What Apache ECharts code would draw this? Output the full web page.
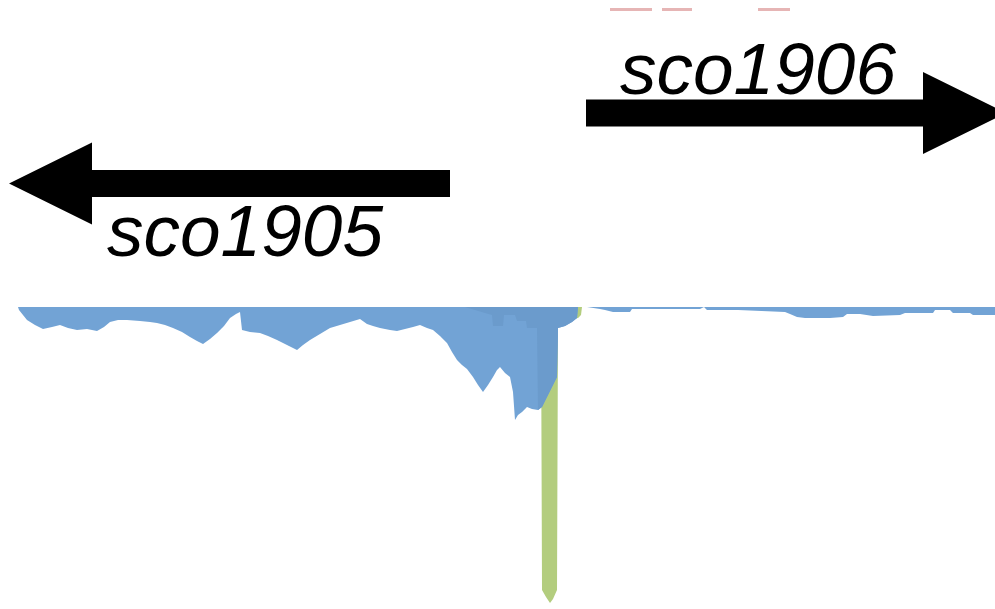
<!DOCTYPE html>
<html>
<head>
<meta charset="utf-8">
<script src="https://cdn.jsdelivr.net/npm/echarts@6/dist/echarts.min.js"></script>
<style>
	html, body { margin: 0; padding: 0; background: #fff; }
	#chart { width: 995px; height: 609px; }
</style>
</head>
<body>
<div id="chart"></div>
<script>
/* genome positions (x) and read depth (y) of the coverage track */
var leftPos = [18, 19, 27, 35, 43, 52, 60, 68, 77, 87, 97, 104, 110, 118, 127, 140, 150, 157, 165, 173, 182, 190, 197,
	203, 210, 217, 224, 230, 236, 240, 242, 250, 260, 268, 277, 287, 297, 303, 310, 320, 330, 340, 350, 360, 367, 373,
	380, 390, 397, 405, 413, 420, 427, 433, 440, 447, 452, 457, 462, 467, 473, 478, 483, 488, 493, 497, 500, 505, 510,
	513, 515, 518, 522, 527, 532, 538, 542, 547, 552, 557, 558, 565, 572, 577, 578];
var leftDepth = [0, 3, 13, 18, 22, 20, 18, 21, 23, 22, 24, 20, 15, 13, 13, 14, 15, 16, 18, 21, 25, 30, 34,
	37, 32, 26, 19, 11, 7, 5, 23, 25, 26, 29, 33, 38, 43, 38, 33, 27, 21, 18, 15, 12, 17, 19,
	21, 23, 24, 22, 20, 18, 21, 23, 29, 36, 45, 53, 58, 62, 70, 78, 85, 78, 70, 63, 60, 66, 70,
	85, 113, 108, 105, 100, 102, 103, 100, 90, 80, 70, 21, 19, 15, 11, 0];

var rightPos = [587, 588, 600, 605, 613, 630, 632, 700, 704, 706, 707, 738, 740, 785, 790, 797, 805, 815, 830, 843,
	847, 860, 873, 900, 905, 933, 935, 950, 953, 970, 973, 995];
var rightDepth = [0, 2, 2, 3, 5, 5, 2, 2, 0, 0, 3, 3, 5, 5, 7, 10, 11, 11, 11, 10,
	7, 7, 9, 8, 6, 6, 3, 3, 6, 6, 8, 8];

/* overlapping reads around the promoter region */
var overlapPos = [465, 475, 485, 492, 493, 503, 504, 515, 517, 526, 527, 537, 538, 542, 547, 552, 557, 558, 565, 572,
	577, 578];
var overlapDepth = [0, 3, 6, 8, 19, 19, 8, 8, 14, 14, 21, 21, 103, 100, 90, 80, 70, 21, 19, 15, 11, 0];

/* transcription start peak */
var peakPos = [541, 542, 546, 550, 553, 557, 558, 570, 578, 581, 582];
var peakDepth = [0, 283, 290, 296, 292, 283, 15, 12, 11, 8, 0];

/* genes: name, start, end, track row */
var geneNames = ["sco1905", "sco1906"];
var geneStart = [450, 586];
var geneEnd = [9, 1006];
var geneRow = [183.5, 113];

/* short read segments in the top track */
var segStart = [610, 662, 758];
var segEnd = [652, 692, 790];
var segRow = [9.5, 9.5, 9.5];

function zip(xs, ys) {
	var out = [];
	for (var i = 0; i < xs.length; i++) {
		out.push([xs[i], ys[i]]);
	}
	return out;
}

function areaSeries(name, data, color, z) {
	return {
		name : name,
		type : "line",
		xAxisIndex : 0,
		yAxisIndex : 0,
		data : data,
		showSymbol : false,
		symbol : "none",
		z : z,
		lineStyle : { width : 0 },
		areaStyle : { color : color, opacity : 1 },
		silent : true
	};
}

function renderGene(params, api) {
	var start = api.value(1), end = api.value(2), row = api.value(3);
	var p0 = api.coord([start, row]);
	var p1 = api.coord([end, row]);
	var dir = p1[0] > p0[0] ? 1 : -1;
	var headLen = 83, headHalf = 41, shaftHalf = 13.5;
	var base = p1[0] - dir * headLen;
	var y = p0[1];
	var points = [
		[p0[0], y - shaftHalf], [base, y - shaftHalf], [base, y - headHalf], [p1[0], y],
		[base, y + headHalf], [base, y + shaftHalf], [p0[0], y + shaftHalf]
	];
	var label;
	if (dir < 0) {
		label = { x : base + 15, y : y + 52 };
	} else {
		label = { x : p0[0] + 34, y : y - 39 };
	}
	return {
		type : "group",
		children : [ {
			type : "polygon",
			shape : { points : points },
			style : { fill : "#000" }
		}, {
			type : "text",
			x : label.x,
			y : label.y,
			style : {
				text : geneNames[params.dataIndex],
				fill : "#000",
				font : "italic 73px 'Liberation Sans', Arial, sans-serif",
				align : "left",
				verticalAlign : "middle"
			}
		} ]
	};
}

function renderSegment(params, api) {
	var a = api.coord([api.value(0), api.value(2)]);
	var b = api.coord([api.value(1), api.value(2)]);
	return {
		type : "line",
		shape : { x1 : a[0], y1 : a[1], x2 : b[0], y2 : b[1] },
		style : { stroke : "#e6b5b5", lineWidth : 3 }
	};
}

var geneData = [];
for (var g = 0; g < geneNames.length; g++) {
	geneData.push([g, geneStart[g], geneEnd[g], geneRow[g]]);
}
var segData = [];
for (var s = 0; s < segStart.length; s++) {
	segData.push([segStart[s], segEnd[s], segRow[s]]);
}

var chart = echarts.init(document.getElementById("chart"));
chart.setOption({
	animation : false,
	backgroundColor : "#fff",
	grid : [
		{ left : 0, right : 0, top : 307, height : 300 },
		{ left : 0, right : 0, top : 0, height : 307 }
	],
	xAxis : [
		{ gridIndex : 0, type : "value", min : 0, max : 995, show : false },
		{ gridIndex : 1, type : "value", min : 0, max : 995, show : false }
	],
	yAxis : [
		{ gridIndex : 0, type : "value", min : 0, max : 300, inverse : true, show : false },
		{ gridIndex : 1, type : "value", min : 0, max : 307, inverse : true, show : false }
	],
	series : [
		areaSeries("peak", zip(peakPos, peakDepth), "#b3cd7e", 1),
		areaSeries("coverage", zip(leftPos, leftDepth), "#72a3d5", 2),
		areaSeries("coverage2", zip(rightPos, rightDepth), "#72a3d5", 2),
		areaSeries("overlap", zip(overlapPos, overlapDepth), "#6b9bcc", 3),
		{
			type : "custom",
			xAxisIndex : 1,
			yAxisIndex : 1,
			data : segData,
			renderItem : renderSegment,
			clip : false,
			silent : true
		}, {
			type : "custom",
			xAxisIndex : 1,
			yAxisIndex : 1,
			data : geneData,
			renderItem : renderGene,
			clip : false,
			silent : true,
			z : 5
		}
	]
});
</script>
</body>
</html>
